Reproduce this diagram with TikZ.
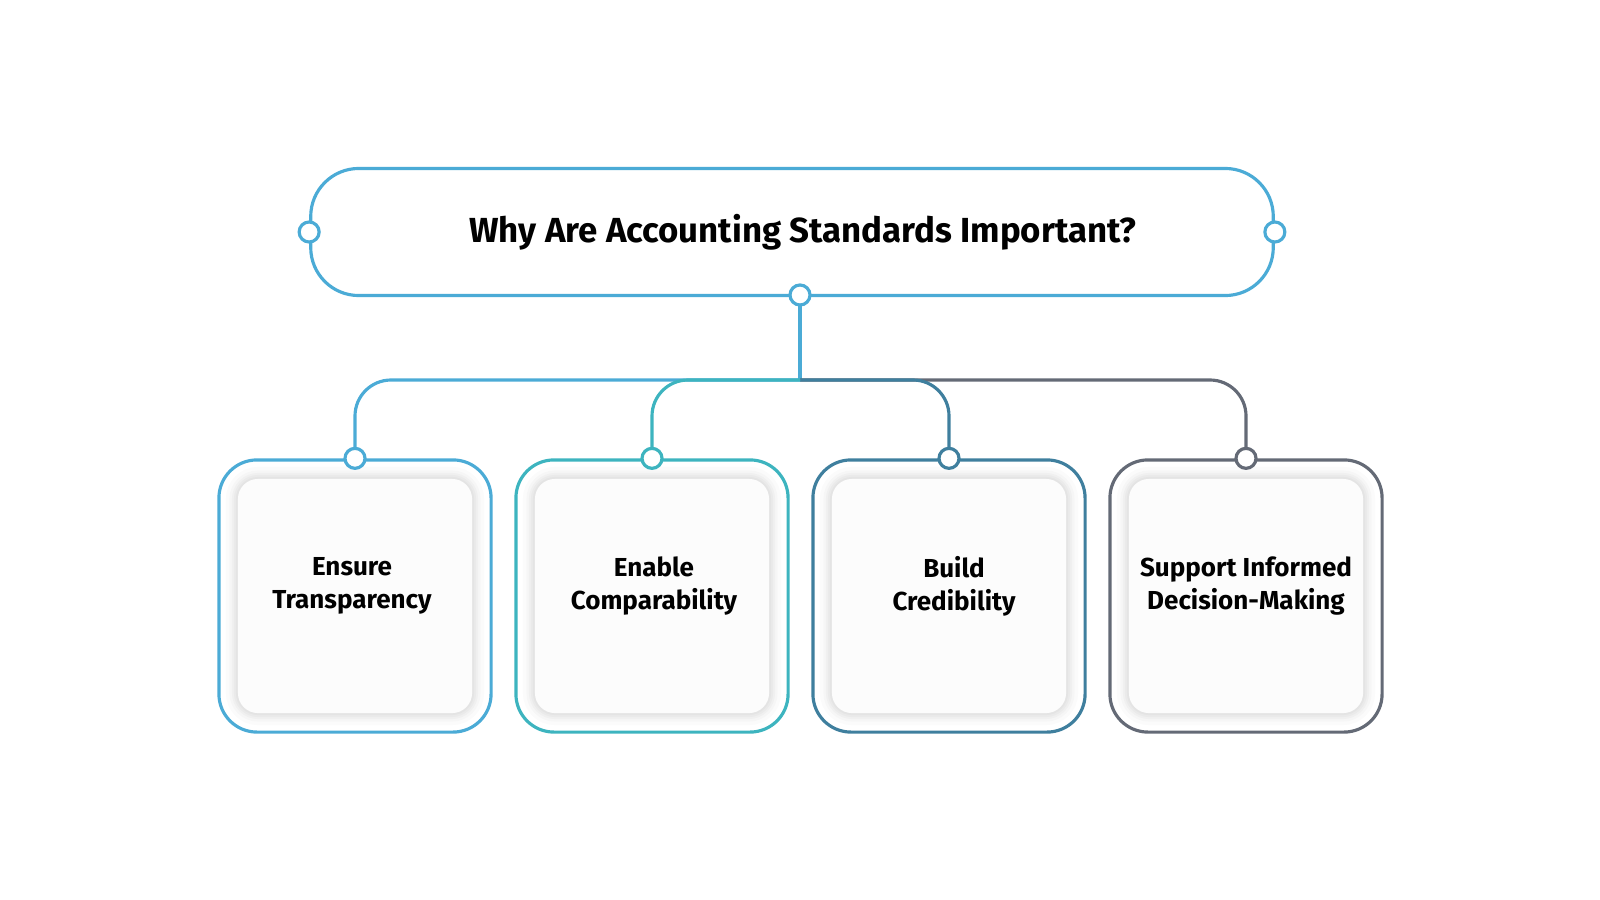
\documentclass[tikz,border=0pt]{standalone}
\usepackage{fontspec}
\setmainfont{Fira Sans}
\usepackage{tikz}
\usetikzlibrary{positioning}

\definecolor{skyblue}{HTML}{4BABD6}
\definecolor{tealblue}{HTML}{3DB4BF}
\definecolor{steelblue}{HTML}{3F7F9E}
\definecolor{slategray}{HTML}{646A76}

\tikzset{
  link/.style={line width=0.9pt},
  port/.style={draw,circle,fill=white,line width=0.9pt,minimum size=0.2cm,inner sep=0pt},
  topbox/.style={draw=skyblue,line width=0.9pt,rounded corners=0.48cm,fill=white,
    minimum width=9.62cm,minimum height=1.27cm,font=\fontsize{9.9}{12}\selectfont\bfseries},
  card/.style={draw=#1,line width=0.9pt,rounded corners=0.38cm,fill=white,
    minimum width=2.72cm,minimum height=2.72cm},
  inset/.style={rounded corners=0.2cm,fill=black!1,minimum width=2.34cm,minimum height=2.34cm,
    preaction={draw=black,draw opacity=0.025,line width=0.04cm},
    preaction={draw=black,draw opacity=0.025,line width=0.08cm},
    preaction={draw=black,draw opacity=0.025,line width=0.12cm},
    preaction={draw=black,draw opacity=0.02,line width=0.17cm},
    preaction={draw=black,draw opacity=0.015,line width=0.24cm}},
  label/.style={align=center,font=\fontsize{7.4}{9.3}\selectfont\bfseries}
}

\begin{document}
\begin{tikzpicture}[x=0.01cm,y=-0.01cm]
  \useasboundingbox (0,0) rectangle (1600,900);

  % heading
  \node[topbox] (title) at (792,232) {\hspace*{0.22cm}Why Are Accounting Standards Important?};
  \coordinate (j) at (800,380);

  % cards
  \node[card=skyblue] (c1) at (355,596) {};
  \node[card=tealblue] (c2) at (652,596) {};
  \node[card=steelblue] (c3) at (949,596) {};
  \node[card=slategray] (c4) at (1246,596) {};

  \node[inset] (i1) at (c1) {};
  \node[inset] (i2) at (c2) {};
  \node[inset] (i3) at (c3) {};
  \node[inset] (i4) at (c4) {};

  \node[label] (t1) at (352,586) {Ensure\\Transparency};
  \node[label] (t2) at (654,586) {Enable\\Comparability};
  \node[label] (t3) at (954,586) {Build\\Credibility};
  \node[label] (t4) at (1246,586) {Support Informed\\Decision-Making};

  % ports
  \coordinate (p1) at (c1.north);
  \coordinate (p2) at (c2.north);
  \coordinate (p3) at (c3.north);
  \coordinate (p4) at (c4.north);
  \coordinate (tb) at (800,295);

  \draw[link,skyblue] (tb) -- (j);
  \draw[link,slategray,rounded corners=0.36cm] (j) -| (p4);
  \draw[link,steelblue,rounded corners=0.36cm] (j) -| (p3);
  \draw[link,skyblue,rounded corners=0.36cm] (j) -| (p1);
  \draw[link,tealblue,rounded corners=0.36cm] (j) -| (p2);

  \node[port,draw=skyblue] (pl) at (title.west) {};
  \node[port,draw=skyblue] (pr) at (title.east) {};
  \node[port,draw=skyblue] (pb) at (tb) {};
  \node[port,draw=skyblue] (q1) at (p1) {};
  \node[port,draw=tealblue] (q2) at (p2) {};
  \node[port,draw=steelblue] (q3) at (p3) {};
  \node[port,draw=slategray] (q4) at (p4) {};
\end{tikzpicture}
\end{document}
